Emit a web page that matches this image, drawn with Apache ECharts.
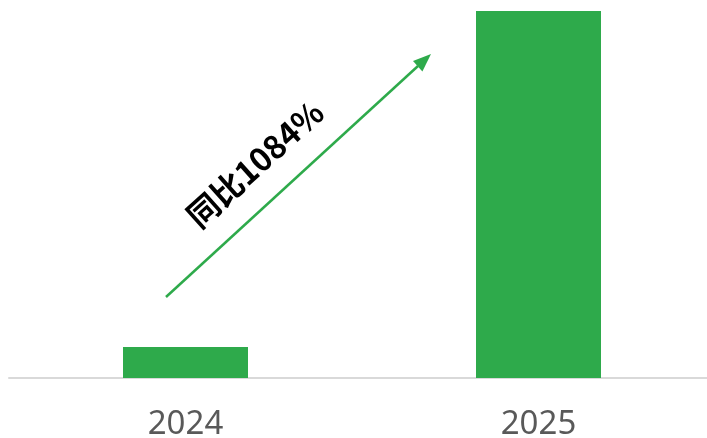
<!DOCTYPE html>
<html>
<head>
<meta charset="utf-8">
<script src="https://cdn.jsdelivr.net/npm/echarts@6/dist/echarts.min.js"></script>
<style>
    html, body { margin: 0; padding: 0; background: #fff; overflow: hidden; }
    /* the axis runs past the right edge of the window, so the chart is a bit wider */
    #chart { width: 715px; height: 438px; }
</style>
</head>
<body>
<div id="chart"></div>
<script>
const years = ['2024', '2025'];
const values = [1.00, 11.84];
const growthLabel = '同比1084%';

const green = '#2eaa4b';

const chart = echarts.init(document.getElementById('chart'));
chart.setOption({
    animation: false,
    grid: {left: 9, right: 0, top: 11, bottom: 60, outerBoundsMode: 'none'},
    xAxis: {
        type: 'category',
        data: years,
        axisTick: {show: false},
        axisLine: {lineStyle: {color: '#d9d9d9', width: 2}},
        axisLabel: {
            color: '#595959',
            fontSize: 33,
            fontFamily: 'Noto Sans',
            margin: 30,
        },
    },
    yAxis: {
        type: 'value',
        min: 0,
        max: 'dataMax',
        show: false,
        splitLine: {show: false},
    },
    series: [{
        type: 'bar',
        data: values,
        barWidth: 125,
        itemStyle: {color: green},
    }],
    graphic: [
        // growth arrow
        {
            type: 'line',
            shape: {x1: 166, y1: 297, x2: 418, y2: 66},
            style: {stroke: green, lineWidth: 2.5},
        },
        {
            type: 'polygon',
            shape: {points: [[431, 54], [422.4, 71.4], [413, 61]]},
            style: {fill: green},
        },
        {
            type: 'text',
            x: 255,
            y: 164,
            rotation: 42 * Math.PI / 180,
            style: {
                text: growthLabel,
                fill: '#000',
                font: 'bold 32px "Noto Sans CJK SC"',
                align: 'center',
                verticalAlign: 'middle',
            },
        },
    ],
});
</script>
</body>
</html>
